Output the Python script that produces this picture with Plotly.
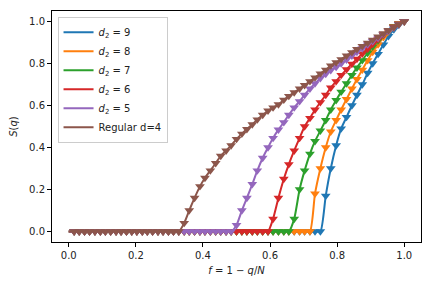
import plotly.graph_objects as go

# fraction f = 1 - q/N at which markers were sampled
f_vals = [0.016, 0.031, 0.047, 0.062, 0.078, 0.094, 0.109, 0.125, 0.141, 0.156,
          0.172, 0.188, 0.203, 0.219, 0.234, 0.25, 0.266, 0.281, 0.297, 0.312,
          0.328, 0.344, 0.359, 0.375, 0.391, 0.406, 0.422, 0.438, 0.453, 0.469,
          0.484, 0.5, 0.516, 0.531, 0.547, 0.562, 0.578, 0.594, 0.609, 0.625,
          0.641, 0.656, 0.672, 0.688, 0.703, 0.719, 0.734, 0.75, 0.766, 0.781,
          0.797, 0.812, 0.828, 0.844, 0.859, 0.875, 0.891, 0.906, 0.922, 0.938,
          0.953, 0.969, 0.984, 1.0]

y_d9 = [0, 0, 0, 0, 0, 0, 0, 0, 0, 0, 0, 0, 0, 0, 0, 0, 0, 0, 0, 0,
        0, 0, 0, 0, 0, 0, 0, 0, 0, 0, 0, 0, 0, 0, 0, 0, 0, 0, 0, 0,
        0, 0, 0, 0, 0, 0, 0, 0,
        0.17, 0.3, 0.41, 0.49, 0.545, 0.6, 0.65, 0.7, 0.755, 0.8,
        0.845, 0.89, 0.93, 0.962, 0.985, 1.0]

y_d8 = [0, 0, 0, 0, 0, 0, 0, 0, 0, 0, 0, 0, 0, 0, 0, 0, 0, 0, 0, 0,
        0, 0, 0, 0, 0, 0, 0, 0, 0, 0, 0, 0, 0, 0, 0, 0, 0, 0, 0, 0,
        0, 0, 0, 0, 0, 0,
        0.18, 0.3, 0.4, 0.475, 0.53, 0.58, 0.63, 0.68, 0.725, 0.77,
        0.815, 0.855, 0.89, 0.925, 0.952, 0.975, 0.99, 1.0]

y_d7 = [0, 0, 0, 0, 0, 0, 0, 0, 0, 0, 0, 0, 0, 0, 0, 0, 0, 0, 0, 0,
        0, 0, 0, 0, 0, 0, 0, 0, 0, 0, 0, 0, 0, 0, 0, 0, 0, 0, 0, 0,
        0, 0,
        0.06, 0.2, 0.29, 0.37, 0.43, 0.48, 0.53, 0.58, 0.625, 0.665,
        0.705, 0.745, 0.78, 0.815, 0.85, 0.88, 0.91, 0.937, 0.958, 0.977,
        0.99, 1.0]

y_d6 = [0, 0, 0, 0, 0, 0, 0, 0, 0, 0, 0, 0, 0, 0, 0, 0, 0, 0, 0, 0,
        0, 0, 0, 0, 0, 0, 0, 0, 0, 0, 0, 0, 0, 0, 0, 0, 0, 0,
        0.06, 0.16, 0.25, 0.32, 0.385, 0.445, 0.5, 0.54, 0.58, 0.615,
        0.65, 0.685, 0.715, 0.745, 0.772, 0.798, 0.822, 0.847, 0.87, 0.893,
        0.915, 0.937, 0.957, 0.975, 0.99, 1.0]

y_d5 = [0, 0, 0, 0, 0, 0, 0, 0, 0, 0, 0, 0, 0, 0, 0, 0, 0, 0, 0, 0,
        0, 0, 0, 0, 0, 0, 0, 0, 0, 0, 0,
        0.03, 0.10, 0.16, 0.225, 0.29, 0.35, 0.40, 0.445, 0.485, 0.52,
        0.555, 0.59, 0.62, 0.65, 0.68, 0.705, 0.73, 0.75, 0.768, 0.783,
        0.80, 0.818, 0.837, 0.855, 0.872, 0.89, 0.906, 0.922, 0.94, 0.955,
        0.97, 0.986, 1.0]

y_reg4 = [0, 0, 0, 0, 0, 0, 0, 0, 0, 0, 0, 0, 0, 0, 0, 0, 0, 0, 0, 0, 0,
          0.04, 0.10, 0.16, 0.215, 0.255, 0.29, 0.325, 0.36, 0.385, 0.41,
          0.44, 0.465, 0.487, 0.51, 0.533, 0.555, 0.575, 0.59, 0.605, 0.627,
          0.645, 0.662, 0.68, 0.697, 0.715, 0.733, 0.752, 0.77, 0.79, 0.805,
          0.82, 0.837, 0.853, 0.868, 0.883, 0.898, 0.913, 0.928, 0.943, 0.958,
          0.972, 0.986, 1.0]

series_names = ["<i>d</i><sub>2</sub> = 9", "<i>d</i><sub>2</sub> = 8",
                "<i>d</i><sub>2</sub> = 7", "<i>d</i><sub>2</sub> = 6",
                "<i>d</i><sub>2</sub> = 5", "Regular d=4"]
series_vals = [y_d9, y_d8, y_d7, y_d6, y_d5, y_reg4]
colors = ["#1f77b4", "#ff7f0e", "#2ca02c", "#d62728", "#9467bd", "#8c564b"]

x_ticks = [0.0, 0.2, 0.4, 0.6, 0.8, 1.0]
y_ticks = [0.0, 0.2, 0.4, 0.6, 0.8, 1.0]

fig = go.Figure()
for name, ys, col in zip(series_names, series_vals, colors):
    fig.add_trace(go.Scatter(
        x=[0.0] + f_vals, y=[0.0] + ys, mode="lines", name=name,
        line=dict(color=col, width=2, shape="spline", smoothing=0.6),
    ))
    fig.add_trace(go.Scatter(
        x=f_vals, y=ys, mode="markers", showlegend=False,
        marker=dict(symbol="triangle-down", size=8.5, color=col, line=dict(width=0)),
    ))

axis_common = dict(
    showgrid=False, zeroline=False, showline=True, linecolor="black",
    linewidth=1, mirror=True, ticks="outside", ticklen=4, tickwidth=1,
    tickcolor="black", tickfont=dict(family="DejaVu Sans", size=10, color="#222"),
    tickformat=".1f", automargin=False,
)
fig.update_xaxes(range=[-0.05, 1.05], tickvals=x_ticks,
                 title=dict(text="<i>f</i> = 1 − <i>q</i>/<i>N</i>",
                            font=dict(family="DejaVu Sans", size=10, color="#222"),
                            standoff=6),
                 **axis_common)
fig.update_yaxes(range=[-0.05, 1.05], tickvals=y_ticks,
                 title=dict(text="<i>S</i>(<i>q</i>)",
                            font=dict(family="DejaVu Sans", size=10, color="#222"),
                            standoff=10),
                 **axis_common)

# page body has an 8px default margin, so the figure is 8px smaller
fig.update_layout(
    width=424, height=280,
    margin=dict(l=44, r=11, t=3, b=46),
    plot_bgcolor="white", paper_bgcolor="white",
    font=dict(family="DejaVu Sans", size=10, color="#222"),
    legend=dict(x=0.015, y=0.975, xanchor="left", yanchor="top",
                bgcolor="rgba(255,255,255,0.85)", bordercolor="#cccccc",
                borderwidth=1, font=dict(size=10), tracegroupgap=0,
                itemwidth=30),
)

fig.write_html("out.html")
